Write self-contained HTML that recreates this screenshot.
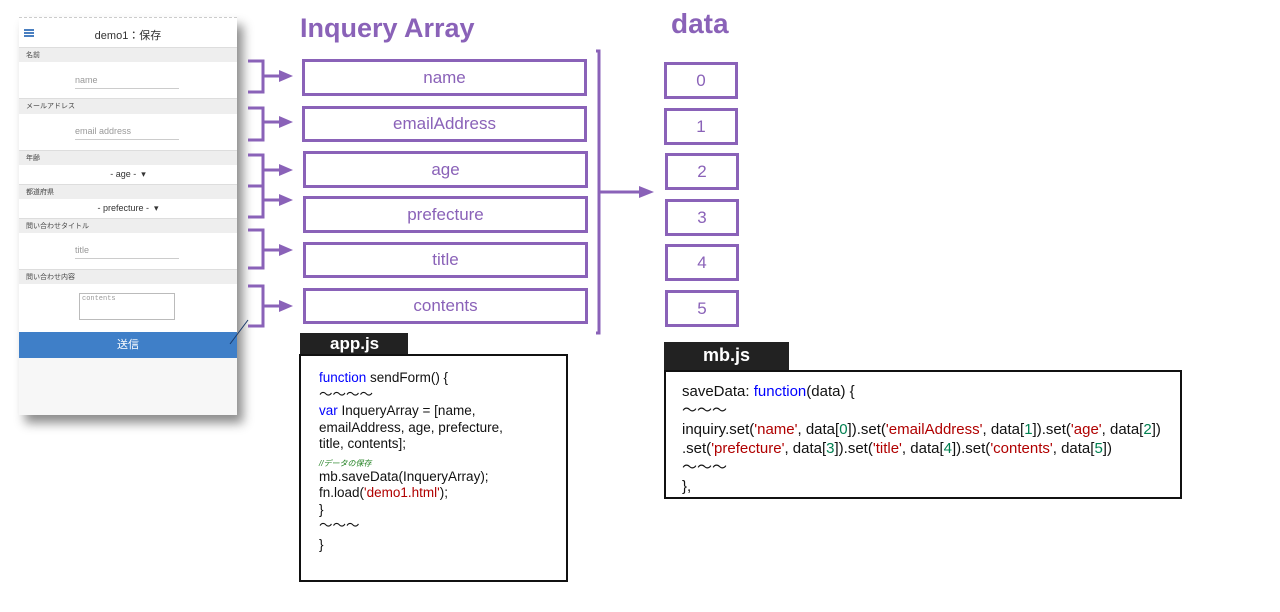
<!DOCTYPE html>
<html><head><meta charset="utf-8"><style>
body{margin:0;width:1280px;height:612px;background:#fff;position:relative;overflow:hidden;font-family:"Liberation Sans","Noto Sans CJK JP",sans-serif}
.a{position:absolute}
.phone{left:19px;top:17px;width:218px;height:398px;background:#f7f7f7;box-shadow:6px 8px 10px rgba(0,0,0,.45)}
.lab{position:absolute;left:0;width:218px;height:15px;background:#eee;font-size:7px;color:#444;line-height:15px;text-indent:7px;border-top:1px solid #ddd}
.fld{position:absolute;left:0;width:218px;background:#fff}
.inp{position:absolute;left:56px;width:104px;border-bottom:1px solid #ccc;font-size:9px;color:#999;padding-bottom:3px}
.box{position:absolute;border:3px solid #8a62b8;box-sizing:border-box;color:#8a62b8;text-align:center;font-size:17px;background:#fff}
.code{font-size:13.5px;line-height:16.5px;color:#111}
.k{color:#0000ff}.s{color:#b00000}.n{color:#008050}
</style></head><body>
<div class="a phone">
 <div class="fld" style="top:0;height:30px;background:#fff;border-top:1px dashed #ccc">
  <div class="a" style="left:5px;top:11px;width:10px;height:1.5px;background:#4a7fc0;box-shadow:0 3px 0 #4a7fc0,0 6px 0 #4a7fc0"></div>
  <div class="a" style="left:0;width:218px;top:9px;text-align:center;font-size:11px;color:#333">demo1：保存</div>
 </div>
 <div class="lab" style="top:30px">名前</div>
 <div class="fld" style="top:45px;height:36px"><div class="inp" style="top:13px">name</div></div>
 <div class="lab" style="top:81px">メールアドレス</div>
 <div class="fld" style="top:97px;height:36px"><div class="inp" style="top:12px">email address</div></div>
 <div class="lab" style="top:133px">年齢</div>
 <div class="fld" style="top:148px;height:19px;font-size:9px;color:#333;text-align:center;line-height:19px">- age - &nbsp;▾</div>
 <div class="lab" style="top:167px">都道府県</div>
 <div class="fld" style="top:182px;height:19px;font-size:9px;color:#333;text-align:center;line-height:19px">- prefecture - &nbsp;▾</div>
 <div class="lab" style="top:201px">問い合わせタイトル</div>
 <div class="fld" style="top:216px;height:36px"><div class="inp" style="top:12px">title</div></div>
 <div class="lab" style="top:252px">問い合わせ内容</div>
 <div class="fld" style="top:267px;height:48px"><div class="a" style="left:60px;top:9px;width:96px;height:27px;border:1px solid #bbb;font-size:7px;color:#999;padding:1px 2px;box-sizing:border-box;font-family:'Liberation Mono',monospace">contents</div></div>
 <div class="a" style="left:0;top:315px;width:218px;height:26px;background:#3f7fc8;color:#fff;font-size:11px;text-align:center;line-height:26px">送信</div>
</div>

<svg class="a" style="left:0;top:0" width="1280" height="612">
 <g stroke="#8a62b8" stroke-width="3" fill="none">
  <path d="M248 61H263V92H248M263 76H280"/>
  <path d="M248 108H263V140H248M263 122H280"/>
  <path d="M248 155H263V217H248M248 186H263M263 170H280M263 200H280"/>
  <path d="M248 230H263V268H248M263 250H280"/>
  <path d="M248 286H263V326H248M263 306H280"/>
  <path d="M596 51H599V333H596M599 192H640"/>
 </g>
 <g fill="#8a62b8">
  <path d="M279 70L293 76L279 82Z"/><path d="M279 116L293 122L279 128Z"/>
  <path d="M279 164L293 170L279 176Z"/><path d="M279 194L293 200L279 206Z"/>
  <path d="M279 244L293 250L279 256Z"/><path d="M279 300L293 306L279 312Z"/>
  <path d="M639 186L654 192L639 198Z"/>
 </g>
 <line x1="230" y1="344" x2="248" y2="320" stroke="#1a3a6a" stroke-width="1"/>
</svg>

<div class="a" style="left:300px;top:13px;font-size:27px;font-weight:bold;color:#8a62b8">Inquery Array</div>
<div class="a" style="left:671px;top:8px;font-size:28px;font-weight:bold;color:#8a62b8">data</div>

<div class="box" style="left:302px;top:59px;width:285px;height:37px;line-height:31px">name</div>
<div class="box" style="left:302px;top:106px;width:285px;height:36px;line-height:30px">emailAddress</div>
<div class="box" style="left:303px;top:151px;width:285px;height:37px;line-height:31px">age</div>
<div class="box" style="left:303px;top:196px;width:285px;height:37px;line-height:31px">prefecture</div>
<div class="box" style="left:303px;top:242px;width:285px;height:36px;line-height:30px">title</div>
<div class="box" style="left:303px;top:288px;width:285px;height:36px;line-height:30px">contents</div>

<div class="box" style="left:664px;top:62px;width:74px;height:37px;line-height:31px">0</div>
<div class="box" style="left:664px;top:108px;width:74px;height:37px;line-height:31px">1</div>
<div class="box" style="left:665px;top:153px;width:74px;height:37px;line-height:31px">2</div>
<div class="box" style="left:665px;top:199px;width:74px;height:37px;line-height:31px">3</div>
<div class="box" style="left:665px;top:244px;width:74px;height:37px;line-height:31px">4</div>
<div class="box" style="left:665px;top:290px;width:74px;height:37px;line-height:31px">5</div>

<div class="a" style="left:300px;top:333px;width:108px;height:22px;background:#222;color:#fff;font-weight:bold;font-size:17px;line-height:21px;text-indent:30px">app.js</div>
<div class="a code" style="left:299px;top:354px;width:269px;height:228px;border:2px solid #111;box-sizing:border-box;padding:14px 0 0 18px">
<div><span class="k">function</span> sendForm() {</div>
<div>〜〜〜〜</div>
<div><span class="k">var</span> InqueryArray = [name,</div>
<div>emailAddress, age, prefecture,</div>
<div>title, contents];</div>
<div style="font-size:8px;line-height:10px;color:#208020;margin-top:6px;font-style:italic">//データの保存</div>
<div>mb.saveData(InqueryArray);</div>
<div>fn.load(<span class="s">'demo1.html'</span>);</div>
<div>}</div>
<div>〜〜〜</div>
<div style="margin-top:2px">}</div>
</div>

<div class="a" style="left:664px;top:342px;width:125px;height:29px;background:#222;color:#fff;font-weight:bold;font-size:18px;line-height:26px;text-indent:39px">mb.js</div>
<div class="a code" style="left:664px;top:370px;width:518px;height:129px;border:2px solid #111;box-sizing:border-box;padding:10px 0 0 16px;font-size:15px;line-height:19px">
<div>saveData: <span class="k">function</span>(data) {</div>
<div>〜〜〜</div>
<div>inquiry.set(<span class="s">'name'</span>, data[<span class="n">0</span>]).set(<span class="s">'emailAddress'</span>, data[<span class="n">1</span>]).set(<span class="s">'age'</span>, data[<span class="n">2</span>])</div>
<div>.set(<span class="s">'prefecture'</span>, data[<span class="n">3</span>]).set(<span class="s">'title'</span>, data[<span class="n">4</span>]).set(<span class="s">'contents'</span>, data[<span class="n">5</span>])</div>
<div>〜〜〜</div>
<div>},</div>
</div>
</body></html>
